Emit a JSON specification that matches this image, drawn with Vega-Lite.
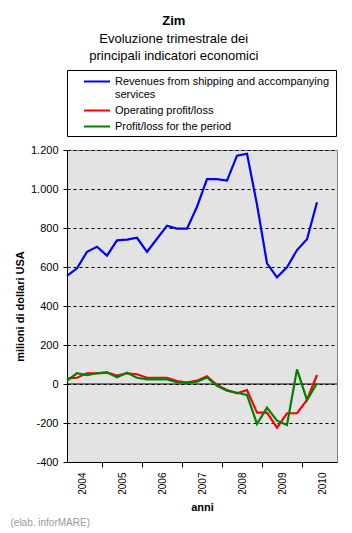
{
  "$schema": "https://vega.github.io/schema/vega-lite/v6.json",
  "width": 270,
  "height": 312,
  "padding": {"left": 10, "top": 14, "right": 14, "bottom": 5},
  "background": "white",
  "title": {
    "text": "Zim",
    "subtitle": ["Evoluzione trimestrale dei", "principali indicatori economici"],
    "anchor": "middle",
    "frame": "bounds",
    "offset": 7
  },
  "config": {
    "font": "Liberation Sans",
    "view": {"fill": "#e3e3e3", "stroke": "#808080", "strokeWidth": 1},
    "title": {
      "font": "Liberation Sans",
      "fontSize": 13,
      "fontWeight": "bold",
      "color": "black",
      "subtitleFont": "Liberation Sans",
      "subtitleFontSize": 13,
      "subtitleColor": "black",
      "subtitlePadding": 5,
      "subtitleLineHeight": 17
    },
    "axis": {
      "domainColor": "black",
      "tickColor": "black",
      "labelColor": "black",
      "titleColor": "black",
      "labelFont": "Liberation Sans",
      "titleFont": "Liberation Sans",
      "labelFontSize": 11,
      "titleFontSize": 11,
      "titleFontWeight": "bold"
    },
    "axisY": {
      "gridColor": "black",
      "gridDash": [3, 3],
      "gridOpacity": 1,
      "tickSize": 4,
      "labelPadding": 5,
      "titlePadding": 5
    }
  },
  "layer": [
    {
      "data": {"values": [{"inizio": 0, "fine": 27, "zero": 0}]},
      "mark": {"type": "rule", "color": "black", "strokeWidth": 1},
      "encoding": {
        "x": {
          "field": "inizio",
          "type": "quantitative",
          "scale": {"domain": [0, 27], "nice": false, "zero": false},
          "axis": {
            "orient": "bottom",
            "values": [3.5, 7.5, 11.5, 15.5, 19.5, 23.5],
            "labels": false,
            "ticks": true,
            "tickSize": 5,
            "domain": false,
            "grid": false,
            "title": "(elab. inforMARE)",
            "titleX": -57,
            "titleY": 63,
            "titleAlign": "left",
            "titleAnchor": "start",
            "titleBaseline": "alphabetic",
            "titleFontWeight": "normal",
            "titleColor": "#9a9a9a",
            "titleFontSize": 10
          }
        },
        "x2": {"field": "fine"},
        "y": {
          "field": "zero",
          "type": "quantitative",
          "scale": {"domain": [-400, 1200], "nice": false},
          "axis": {
            "title": "milioni di dollari USA",
            "values": [-400, -200, 0, 200, 400, 600, 800, 1000, 1200],
            "labelExpr": "(datum.value < 0 ? '-' : '') + replace(format(abs(datum.value), ','), ',', '.')",
            "grid": true
          }
        }
      }
    },
    {
      "data": {
        "values": [
          {"t": 0, "rev": 555, "op": 29, "pl": 17},
          {"t": 1, "rev": 593, "op": 32, "pl": 55},
          {"t": 2, "rev": 678, "op": 55, "pl": 46},
          {"t": 3, "rev": 704, "op": 55, "pl": 55},
          {"t": 4, "rev": 658, "op": 58, "pl": 60},
          {"t": 5, "rev": 737, "op": 43, "pl": 34},
          {"t": 6, "rev": 740, "op": 55, "pl": 58},
          {"t": 7, "rev": 750, "op": 50, "pl": 32},
          {"t": 8, "rev": 678, "op": 32, "pl": 24},
          {"t": 9, "rev": 745, "op": 32, "pl": 24},
          {"t": 10, "rev": 812, "op": 32, "pl": 24},
          {"t": 11, "rev": 797, "op": 15, "pl": 9},
          {"t": 12, "rev": 797, "op": 7, "pl": 7},
          {"t": 13, "rev": 909, "op": 17, "pl": 12},
          {"t": 14, "rev": 1051, "op": 39, "pl": 34},
          {"t": 15, "rev": 1051, "op": -5, "pl": -9},
          {"t": 16, "rev": 1043, "op": -31, "pl": -34},
          {"t": 17, "rev": 1171, "op": -48, "pl": -45},
          {"t": 18, "rev": 1181, "op": -31, "pl": -56},
          {"t": 19, "rev": 920, "op": -147, "pl": -205},
          {"t": 20, "rev": 619, "op": -147, "pl": -121},
          {"t": 21, "rev": 547, "op": -224, "pl": -188},
          {"t": 22, "rev": 598, "op": -150, "pl": -210},
          {"t": 23, "rev": 687, "op": -150, "pl": 75},
          {"t": 24, "rev": 742, "op": -82, "pl": -82},
          {"t": 25, "rev": 932, "op": 46, "pl": 4}
        ]
      },
      "transform": [{"fold": ["rev", "op", "pl"], "as": ["serie", "valore"]}],
      "mark": {"type": "line", "strokeWidth": 2.2},
      "encoding": {
        "x": {
          "field": "t",
          "type": "quantitative",
          "scale": {"domain": [0, 27], "nice": false, "zero": false},
          "axis": {
            "orient": "bottom",
            "values": [1.5, 5.5, 9.5, 13.5, 17.5, 21.5, 25.5],
            "labelExpr": "'' + (2004 + (datum.value - 1.5) / 4)",
            "labelAngle": -90,
            "labelAlign": "right",
            "labelBaseline": "middle",
            "labelFontSize": 10,
            "ticks": false,
            "tickSize": 0,
            "labelPadding": 10,
            "domain": true,
            "grid": false,
            "title": "anni",
            "titlePadding": 7
          }
        },
        "y": {
          "field": "valore",
          "type": "quantitative",
          "scale": {"domain": [-400, 1200], "nice": false},
          "axis": {
            "title": "milioni di dollari USA",
            "values": [-400, -200, 0, 200, 400, 600, 800, 1000, 1200],
            "labelExpr": "(datum.value < 0 ? '-' : '') + replace(format(abs(datum.value), ','), ',', '.')",
            "grid": true
          }
        },
        "color": {
          "field": "serie",
          "type": "nominal",
          "scale": {"domain": ["rev", "op", "pl"], "range": ["#0000ff", "#ff0000", "#008000"]},
          "legend": {
            "orient": "none",
            "legendX": 0,
            "legendY": -80,
            "title": "\u00a0",
            "titleOrient": "right",
            "titlePadding": 3,
            "titleFontSize": 11,
            "direction": "vertical",
            "strokeColor": "black",
            "fillColor": "white",
            "padding": 4,
            "symbolType": "M-2,0L2,0",
            "symbolSize": 169,
            "symbolStrokeWidth": 2,
            "symbolOffset": 18.5,
            "labelOffset": 10.5,
            "labelFontSize": 11,
            "labelColor": "black",
            "labelFont": "Liberation Sans",
            "labelLimit": 400,
            "rowPadding": 3,
            "labelExpr": "datum.value == 'rev' ? ['Revenues from shipping and accompanying', 'services'] : datum.value == 'op' ? 'Operating profit/loss' : 'Profit/loss for the period'"
          }
        }
      }
    }
  ],
  "resolve": {"axis": {"x": "independent"}}
}
